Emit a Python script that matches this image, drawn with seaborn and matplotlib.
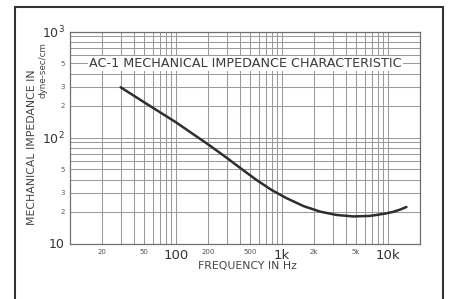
import numpy as np
import pandas as pd

import seaborn as sns
import matplotlib
matplotlib.use("Agg")
import matplotlib.pyplot as plt
import matplotlib.ticker as mticker
import matplotlib.transforms as mtransforms
from matplotlib.patches import Rectangle


# values
freq_hz = [30, 50, 100, 135, 195, 280, 400, 575, 800, 1100, 1600, 2300,
           3250, 4700, 6700, 7800, 9500, 11200, 13000, 14900]
impedance = [298, 215, 139, 113, 87.9, 67.8, 51.9, 39.7, 31.9, 26.8, 22.5, 19.96,
             18.6, 18.0, 18.2, 18.6, 19.2, 19.9, 20.9, 22.1]

x_ticks = [20, 50, 100, 200, 500, 1000, 2000, 5000, 10000]
x_labels = ['20', '50', '100', '200', '500', '1k', '2k', '5k', '10k']
x_big = ['100', '1k', '10k']

y_ticks = [10, 20, 30, 50, 100, 200, 300, 500, 1000]
y_labels = ['10', '2', '3', '5', r'$10^2$', '2', '3', '5', r'$10^3$']
y_big = ['10', r'$10^2$', r'$10^3$']

title = 'AC-1 MECHANICAL IMPEDANCE CHARACTERISTIC'

df = pd.DataFrame({'freq': freq_hz, 'impedance': impedance})

sns.set_style('white')
plt.rcParams['font.family'] = ['DejaVu Sans']
plt.rcParams['mathtext.fontset'] = 'dejavusans'

fig = plt.figure(figsize=(4.51, 2.99), dpi=100)
ax = fig.add_axes([70 / 451, 1 - 243.5 / 299, 350 / 451, 212 / 299])

grid_col = '#9a9a9a'
ink = '#2e2e2e'

sns.lineplot(data=df, x='freq', y='impedance', ax=ax, color=ink, lw=1.8)

ax.set_xscale('log')
ax.set_yscale('log')
ax.set_xlim(10, 20000)
ax.set_ylim(10, 1000)

ax.xaxis.set_major_locator(mticker.FixedLocator(x_ticks))
ax.xaxis.set_major_formatter(mticker.FixedFormatter(x_labels))
ax.xaxis.set_minor_locator(mticker.LogLocator(base=10, subs=np.arange(2, 10)))
ax.xaxis.set_minor_formatter(mticker.NullFormatter())
ax.yaxis.set_major_locator(mticker.FixedLocator(y_ticks))
ax.yaxis.set_major_formatter(mticker.FixedFormatter(y_labels))
ax.yaxis.set_minor_locator(mticker.LogLocator(base=10, subs=np.arange(2, 10)))
ax.yaxis.set_minor_formatter(mticker.NullFormatter())

ax.grid(True, which='both', color=grid_col, lw=0.75)
ax.set_axisbelow(True)
for sp in ax.spines.values():
    sp.set_color('#707070')
    sp.set_linewidth(0.9)

ax.tick_params(axis='x', which='both', length=0, pad=4, colors='#555555')
ax.tick_params(axis='y', which='major', length=2, width=0.8, pad=2, colors='#555555')
ax.tick_params(axis='y', which='minor', length=0)

for lab in ax.get_xticklabels():
    if lab.get_text() in x_big:
        lab.set_fontsize(9.5)
        lab.set_color('#333333')
    else:
        lab.set_fontsize(5)
for lab in ax.get_yticklabels():
    if lab.get_text() in y_big:
        lab.set_fontsize(9)
        lab.set_color('#333333')
    else:
        lab.set_fontsize(5)

ax.set_xlabel('')
ax.set_ylabel('')

# title written inside the grid, over the 500 line
trans = mtransforms.blended_transform_factory(ax.transAxes, ax.transData)
ax.text(0.502, 500, title, transform=trans, ha='center', va='center',
        fontsize=9.2, color='#3a3a3a',
        bbox=dict(facecolor='white', edgecolor='none', pad=1.0))

fig.text(247.5 / 451, 1 - 266 / 299, 'FREQUENCY IN Hz', ha='center', va='center',
         fontsize=7.8, color='#444444')
fig.text(32 / 451, 1 - 147 / 299, 'MECHANICAL IMPEDANCE IN', rotation=90,
         ha='center', va='center', fontsize=7.8, color='#444444')
fig.text(43 / 451, 1 - 70 / 299, 'dyne-sec/cm', rotation=90,
         ha='center', va='center', fontsize=6.3, color='#444444')

# page frame from the scan
fig.patches.append(Rectangle((15 / 451, -0.2), 428 / 451, 1.2 - 7 / 299,
                             transform=fig.transFigure, fill=False,
                             edgecolor='#333333', lw=1.5))

plt.savefig('out.png', dpi=100)
plt.close('all')
